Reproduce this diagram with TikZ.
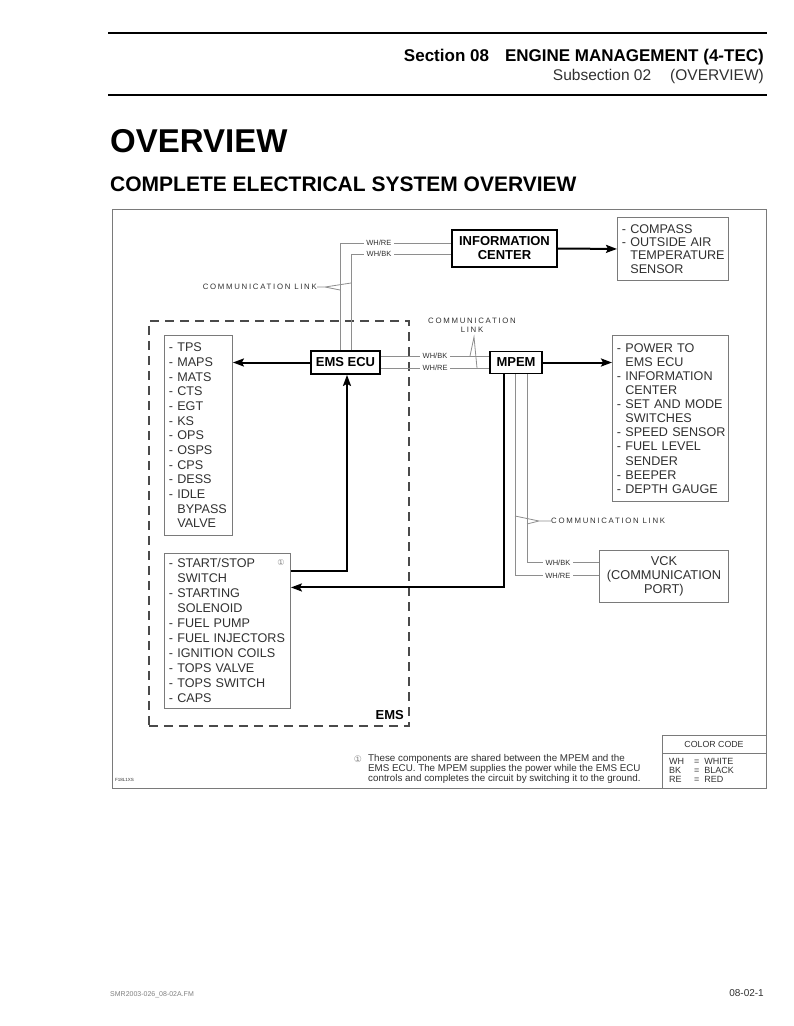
\documentclass[tikz,border=0pt]{standalone}
\usepackage{fontspec}
\setmainfont{Liberation Sans}
\newfontfamily\symfont{DejaVu Sans}
\newfontfamily\spacedfont[LetterSpace=22]{Liberation Sans}
\usetikzlibrary{arrows.meta,calc}
\definecolor{wiregray}{HTML}{8E8E8E}
\definecolor{boxgray}{HTML}{7A7A7A}
\definecolor{textgray}{HTML}{303030}
\definecolor{dashgray}{HTML}{4A4A4A}
\newcommand{\itm}[1]{\mbox{-\ #1}}
\newcommand{\cont}[1]{\mbox{\hphantom{-\ }#1}}
\tikzset{
  unitbox/.style={draw, line width=1.8pt, font=\fontsize{13}{14}\selectfont\bfseries, align=center, inner sep=0pt},
  listbox/.style={draw=boxgray, line width=0.9pt, text=textgray, align=left, anchor=north west, inner xsep=4.5pt, inner ysep=0pt},
  wire/.style={draw=wiregray, line width=0.8pt},
  tag/.style={fill=white, text=textgray, inner xsep=2.5pt, inner ysep=1pt, font=\fontsize{7.5}{8}\selectfont},
  linklabel/.style={text=textgray, inner sep=0pt, font=\spacedfont\fontsize{7.8}{9}\selectfont},
  power/.style={line width=2pt},
  arr/.style={power, -{Stealth[length=11pt,width=8pt,inset=2pt]}},
}
\begin{document}
\begin{tikzpicture}[x=1pt,y=-1pt]
\useasboundingbox (0,0) rectangle (794,1026);

\draw[line width=2.5pt] (108,33) -- (767,33);
\draw[line width=2.5pt] (108,95) -- (767,95);
\node[anchor=base east, inner sep=0, font=\fontsize{17}{18}\selectfont\bfseries] (secline) at (764,61) {Section 08\hspace{16pt}ENGINE MANAGEMENT (4-TEC)};
\node[anchor=base east, inner sep=0, text=textgray, font=\fontsize{15.5}{17}\selectfont] (subline) at (764,80) {Subsection 02\hspace{19pt}(OVERVIEW)};
\node[anchor=base west, inner sep=0, font=\fontsize{33}{36}\selectfont\bfseries] (title) at (110,152) {OVERVIEW};
\node[anchor=base west, inner sep=0, font=\fontsize{21}{24}\selectfont\bfseries] (subtitle) at (110,191) {COMPLETE ELECTRICAL SYSTEM OVERVIEW};

\draw[boxgray, line width=1pt] (112,209) rectangle (766,788);

\node[draw=dashgray, dashed, dash pattern=on 9pt off 6pt, line width=1.8pt, minimum width=260, minimum height=405, anchor=north west] (ems) at (148,320) {};
\node[anchor=base east, inner sep=0, font=\fontsize{13}{14}\selectfont\bfseries] (emslabel) at (404,719) {EMS};

\node[unitbox, minimum width=105, minimum height=37] (info) at (504.5,248.5) {INFORMATION\\CENTER};
\node[unitbox, minimum width=69, minimum height=23] (ecu) at (345.5,362.5) {EMS ECU};
\node[unitbox, minimum width=52, minimum height=22] (mpem) at (516,362.5) {MPEM};

\node[listbox, text width=102, minimum height=63, font=\fontsize{12.6}{13.3}\selectfont] (compass) at (617,217)
  {\itm{COMPASS}\\\itm{OUTSIDE AIR}\\\cont{TEMPERATURE}\\\cont{SENSOR}};
\node[listbox, text width=59, minimum height=200, font=\fontsize{12.6}{14.67}\selectfont] (sensors) at (164,335)
  {\itm{TPS}\\\itm{MAPS}\\\itm{MATS}\\\itm{CTS}\\\itm{EGT}\\\itm{KS}\\\itm{OPS}\\\itm{OSPS}\\\itm{CPS}\\\itm{DESS}\\\itm{IDLE}\\\cont{BYPASS}\\\cont{VALVE}};
\node[listbox, text width=107, minimum height=166, font=\fontsize{12.6}{14.1}\selectfont] (power) at (612,335)
  {\itm{POWER TO}\\\cont{EMS ECU}\\\itm{INFORMATION}\\\cont{CENTER}\\\itm{SET AND MODE}\\\cont{SWITCHES}\\\itm{SPEED SENSOR}\\\itm{FUEL LEVEL}\\\cont{SENDER}\\\itm{BEEPER}\\\itm{DEPTH GAUGE}};
\node[listbox, text width=117, minimum height=155, font=\fontsize{12.6}{15}\selectfont] (start) at (164,553)
  {\itm{START/STOP}\\\cont{SWITCH}\\\itm{STARTING}\\\cont{SOLENOID}\\\itm{FUEL PUMP}\\\itm{FUEL INJECTORS}\\\itm{IGNITION COILS}\\\itm{TOPS VALVE}\\\itm{TOPS SWITCH}\\\itm{CAPS}};
\node[text=gray, inner sep=0, font=\symfont\fontsize{8}{8}\selectfont] (mark1) at (281,563) {①};
\node[listbox, text width=120, minimum height=52, align=center, font=\fontsize{12.8}{14}\selectfont] (vck) at (599,550)
  {VCK\\(COMMUNICATION\\PORT)};

\draw[arr] (info.east) -- (compass.west);
\draw[arr] (ecu.west) -- (ecu.west -| sensors.east);
\draw[arr] (mpem.east) -- (mpem.east -| power.west);
\draw[arr] ($(mpem.south)+(-12,0)$) |- ($(start.east)+(0,-43.5)$);
\draw[arr] ($(start.east)+(0,-59.5)$) -| ($(ecu.south)+(1.5,0)$);

\draw[wire] ($(ecu.north)+(-5.5,0)$) |- node[pos=.675, tag] {WH/RE} ($(info.west)+(0,-5.5)$);
\draw[wire] ($(ecu.north)+(5.5,0)$) |- node[pos=.64, tag] {WH/BK} ($(info.west)+(0,5.5)$);
\draw[wire] ($(ecu.east)+(0,-6.5)$) -- node[tag] {WH/BK} ($(mpem.west)+(0,-6.5)$);
\draw[wire] ($(ecu.east)+(0,5.5)$) -- node[tag] {WH/RE} ($(mpem.west)+(0,5.5)$);
\draw[wire] ($(mpem.south)+(11,0)$) |- node[pos=.715, tag] {WH/BK} ($(vck.west)+(0,-14)$);
\draw[wire] ($(mpem.south)+(-1,0)$) |- node[pos=.755, tag] {WH/RE} ($(vck.west)+(0,-1)$);

\node[linklabel, anchor=east] (link1) at (317,287) {COMMUNICATION LINK};
\coordinate (k1) at (325,287);
\coordinate (k1a) at (340,290);
\coordinate (k1b) at (351,283);
\draw[wire] (link1.east) -- (k1) -- (k1a) (k1) -- (k1b);

\node[linklabel, align=center] (link2) at (472,325) {COMMUNICATION\\LINK};
\coordinate (k2) at (474,337);
\coordinate (k2a) at (470,356);
\coordinate (k2b) at (477,368);
\draw[wire] (k2a) -- (k2) -- (k2b);

\node[linklabel, anchor=west] (link3) at (551,521) {COMMUNICATION LINK};
\coordinate (k3) at (539,521);
\coordinate (k3a) at (515,516);
\coordinate (k3b) at (527,524);
\draw[wire] (link3.west) -- (k3) -- (k3a) (k3) -- (k3b);

\node[text=gray, inner sep=0, font=\symfont\fontsize{9}{9}\selectfont] (mark2) at (358,759) {①};
\node[anchor=north west, inner sep=0, align=left, text=textgray, font=\fontsize{9.8}{10}\selectfont] (note) at (368,754)
  {These components are shared between the MPEM and the\\EMS ECU. The MPEM supplies the power while the EMS ECU\\controls and completes the circuit by switching it to the ground.};
\node[anchor=base west, inner sep=0, text=textgray, font=\fontsize{4.5}{5}\selectfont] (figref) at (115,781) {F18L1XS};

\node[draw=boxgray, line width=1pt, minimum width=104, minimum height=53, anchor=north west] (ccode) at (662,735) {};
\draw[boxgray, line width=1pt] (ccode.west |- 0,753) -- (ccode.east |- 0,753);
\node[text=textgray, inner sep=0, font=\fontsize{8.8}{9}\selectfont] (cctitle) at (714,744) {COLOR CODE};
\foreach \abbr/\full [count=\i] in {WH/WHITE,BK/BLACK,RE/RED}
{
  \node[anchor=base west, inner sep=0, text=textgray, font=\fontsize{9}{9}\selectfont] (cc\i) at (669,755.5+9*\i) {\abbr};
  \node[anchor=base west, inner sep=0, text=textgray, font=\fontsize{9}{9}\selectfont] (cv\i) at (694,755.5+9*\i) {=\ \ \full};
}

\node[anchor=base west, inner sep=0, text=gray, font=\fontsize{7}{8}\selectfont] (footl) at (110,996) {SMR2003-026\_08-02A.FM};
\node[anchor=base east, inner sep=0, text=textgray, font=\fontsize{10}{10}\selectfont] (footr) at (764,996) {08-02-1};
\end{tikzpicture}
\end{document}
